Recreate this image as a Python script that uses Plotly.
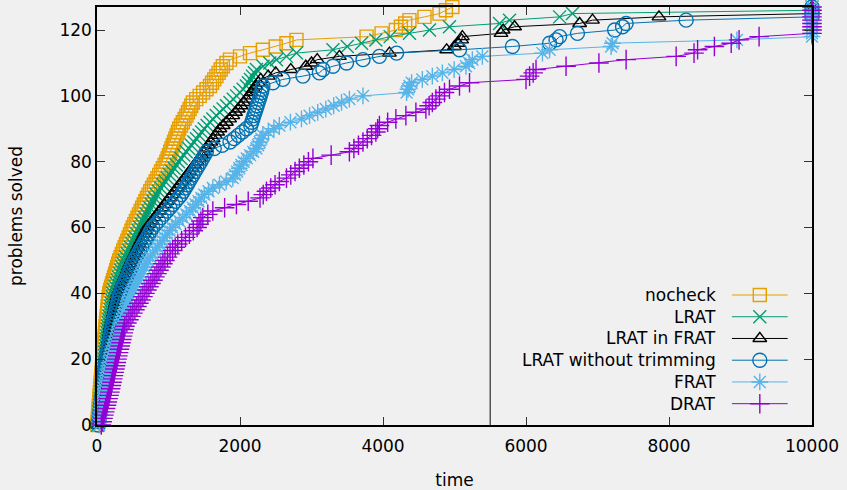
import plotly.graph_objects as go

# ---------------- data (solve times in seconds, sorted; y = number solved) ----------------
series_names = ["nocheck", "LRAT", "LRAT in FRAT", "LRAT without trimming", "FRAT", "DRAT"]

nocheck_t = [
    5, 8, 12, 15, 19, 22, 26, 30, 33, 37,
    40, 44, 48, 52, 56, 60, 64, 68, 72, 76,
    80, 84, 88, 92, 96, 100, 104, 108, 112, 116,
    120, 125, 130, 135, 140, 145, 150, 155, 160, 165,
    170, 183, 197, 211, 225, 239, 253, 268, 282, 296,
    310, 329, 348, 367, 386, 405, 424, 443, 462, 481,
    500, 522, 544, 566, 588, 610, 632, 654, 676, 698,
    720, 745, 770, 795, 820, 845, 870, 895, 920, 945,
    970, 988, 1006, 1024, 1042, 1060, 1078, 1096, 1114, 1132,
    1150, 1175, 1200, 1225, 1250, 1272, 1295, 1318, 1340, 1388,
    1436, 1484, 1532, 1580, 1610, 1640, 1670, 1700, 1730, 1760,
    1810, 1860, 2000, 2140, 2320, 2500, 2650, 2790, 3770, 3980,
    4180, 4250, 4310, 4370, 4580, 4790, 4880, 4970,
]

lrat_t = [
    10, 14, 19, 23, 28, 32, 37, 41, 46, 50,
    55, 59, 64, 68, 73, 77, 82, 86, 91, 95,
    100, 105, 110, 115, 120, 125, 130, 135, 140, 145,
    150, 157, 164, 171, 178, 185, 192, 199, 206, 213,
    220, 236, 252, 268, 284, 300, 316, 332, 348, 364,
    380, 402, 424, 446, 468, 490, 512, 534, 556, 578,
    600, 623, 646, 669, 692, 715, 738, 761, 784, 807,
    830, 861, 892, 923, 954, 985, 1016, 1047, 1078, 1109,
    1140, 1176, 1212, 1248, 1284, 1320, 1356, 1392, 1428, 1464,
    1500, 1540, 1580, 1620, 1668, 1716, 1764, 1812, 1860, 1906,
    1952, 1998, 2044, 2090, 2118, 2146, 2174, 2202, 2230, 2323,
    2416, 2510, 2650, 2790, 3300, 3500, 3700, 3900, 4100, 4370,
    4650, 4930, 5630, 5770, 6470, 6650, 10000, 10000,
]

lrat_in_frat_t = [
    15, 20, 26, 31, 37, 42, 48, 53, 59, 64,
    70, 75, 80, 85, 90, 95, 100, 105, 110, 115,
    120, 127, 134, 141, 148, 155, 162, 169, 176, 183,
    190, 200, 210, 220, 230, 240, 250, 260, 270, 280,
    290, 309, 328, 347, 366, 385, 404, 423, 442, 461,
    480, 502, 524, 546, 568, 590, 612, 634, 656, 678,
    700, 735, 770, 805, 840, 875, 910, 945, 980, 1015,
    1050, 1085, 1120, 1155, 1190, 1225, 1260, 1295, 1330, 1365,
    1400, 1432, 1464, 1496, 1528, 1560, 1592, 1624, 1656, 1688,
    1720, 1765, 1810, 1855, 1900, 1938, 1976, 2014, 2052, 2090,
    2123, 2156, 2190, 2223, 2256, 2290, 2395, 2500, 2710, 2920,
    3000, 3080, 3390, 4090, 4890, 5000, 5050, 5100, 5110, 5650,
    5680, 5840, 6750, 6930, 7860, 10000, 10000, 10000,
]

lrat_notrim_t = [
    20, 26, 32, 38, 44, 50, 56, 62, 68, 74,
    80, 85, 90, 95, 100, 105, 110, 115, 120, 125,
    130, 138, 146, 154, 162, 170, 178, 186, 194, 202,
    210, 221, 232, 243, 254, 265, 276, 287, 298, 309,
    320, 340, 360, 380, 400, 420, 440, 460, 480, 500,
    520, 546, 572, 598, 624, 650, 676, 702, 728, 754,
    780, 820, 860, 900, 940, 980, 1020, 1060, 1100, 1140,
    1180, 1207, 1234, 1261, 1288, 1315, 1342, 1369, 1396, 1423,
    1450, 1477, 1503, 1530, 1640, 1750, 1860, 1918, 1975, 2032,
    2090, 2150, 2165, 2180, 2195, 2210, 2225, 2240, 2255, 2270,
    2285, 2300, 2310, 2320, 2460, 2600, 2880, 3110, 3160, 3300,
    3490, 3720, 3950, 4190, 5070, 5810, 6330, 6420, 6470, 6720,
    7240, 7350, 7400, 8240, 10000, 10000, 10000, 10000,
]

frat_t = [
    30, 36, 43, 49, 56, 62, 69, 75, 82, 88,
    95, 103, 112, 120, 129, 137, 146, 154, 163, 171,
    180, 194, 208, 222, 236, 250, 264, 278, 292, 306,
    320, 336, 352, 368, 384, 400, 416, 432, 448, 464,
    480, 503, 526, 549, 572, 595, 618, 641, 664, 687,
    710, 744, 778, 812, 846, 880, 914, 948, 982, 1016,
    1050, 1100, 1150, 1200, 1250, 1300, 1340, 1380, 1420, 1460,
    1500, 1560, 1620, 1713, 1807, 1900, 1930, 1960, 1990, 2020,
    2050, 2095, 2140, 2185, 2230, 2253, 2275, 2298, 2320, 2397,
    2473, 2550, 2705, 2860, 2973, 3087, 3200, 3310, 3420, 3530,
    3720, 4330, 4350, 4370, 4400, 4550, 4690, 4830, 4995, 5160,
    5205, 5250, 5390, 6230, 6330, 7190, 7210, 8950, 10000, 10000,
    10000, 10000, 10000, 10000, 10000, 10000, 10000, 10000,
]

drat_t = [
    60, 72, 84, 96, 108, 120, 132, 144, 156, 168,
    180, 190, 200, 210, 220, 230, 240, 250, 260, 270,
    280, 291, 302, 313, 324, 335, 346, 357, 368, 379,
    390, 418, 446, 474, 502, 530, 558, 586, 614, 642,
    670, 698, 726, 754, 782, 810, 838, 866, 894, 922,
    950, 986, 1022, 1058, 1094, 1130, 1184, 1238, 1292, 1346,
    1400, 1427, 1453, 1480, 1550, 1620, 1785, 1950, 2115, 2280,
    2325, 2370, 2430, 2490, 2550, 2650, 2710, 2770, 2830, 2893,
    2957, 3020, 3275, 3530, 3593, 3657, 3720, 3780, 3840, 3900,
    3925, 3950, 4065, 4180, 4320, 4460, 4600, 4645, 4690, 4740,
    4790, 4860, 4930, 5070, 5210, 6000, 6050, 6100, 6140, 6560,
    7020, 7400, 8100, 8350, 8400, 8635, 8870, 8980, 9260, 10000,
    10000, 10000, 10000, 10000, 10000, 10000, 10000, 10000,
]

x_ticks = [0, 2000, 4000, 6000, 8000, 10000]
y_ticks = [0, 20, 40, 60, 80, 100, 120]
timeout_line = 5500

# ---------------- styles ----------------
all_times = [nocheck_t, lrat_t, lrat_in_frat_t, lrat_notrim_t, frat_t, drat_t]
colors = ["#E69F00", "#009E73", "#000000", "#0072B2", "#56B4E9", "#9400D3"]
symbols = ["square-open", "x-thin-open", "triangle-up-open", "circle-open",
           "asterisk-open", "cross-thin-open"]
sizes = [13, 13, 12, 14, 14, 14]

FONT = "DejaVu Sans"
FS = 17

fig = go.Figure()
for name, ts, c, s, sz in zip(series_names, all_times, colors, symbols, sizes):
    fig.add_trace(go.Scatter(
        x=ts, y=list(range(len(ts))), mode="lines+markers", name=name,
        line=dict(color=c, width=1),
        marker=dict(symbol=s, size=sz, color=c, line=dict(color=c, width=1.4)),
        cliponaxis=False, showlegend=False,
    ))

# custom gnuplot-style key (text left of sample) on an overlay axis in [0,1]
key_y = [0.311, 0.259, 0.207, 0.155, 0.103, 0.051]
for name, c, s, sz, ky in zip(series_names, colors, symbols, sizes, key_y):
    fig.add_trace(go.Scatter(
        x=[0.888, 0.966], y=[ky, ky], mode="lines", line=dict(color=c, width=1),
        xaxis="x2", yaxis="y2", showlegend=False, hoverinfo="skip"))
    fig.add_trace(go.Scatter(
        x=[0.927], y=[ky], mode="markers",
        marker=dict(symbol=s, size=sz, color=c, line=dict(color=c, width=1.4)),
        xaxis="x2", yaxis="y2", showlegend=False, hoverinfo="skip"))
    fig.add_annotation(x=0.869, y=ky, xref="x2", yref="y2", text=name,
                       showarrow=False, xanchor="right", yanchor="middle",
                       font=dict(family=FONT, size=FS, color="#000"))

fig.add_shape(type="line", x0=timeout_line, x1=timeout_line, y0=0, y1=1,
              xref="x", yref="y domain", line=dict(color="#555555", width=1.5))

axis_common = dict(showline=True, linecolor="black", linewidth=1.5, mirror="allticks",
                   ticks="inside", ticklen=8, tickwidth=1, tickcolor="#333333",
                   showgrid=False, zeroline=False, automargin=False,
                   tickfont=dict(family=FONT, size=FS, color="#000"))

fig.update_layout(
    width=847, height=490,
    margin=dict(l=97, r=35, t=7, b=65),
    paper_bgcolor="#f0f0f0", plot_bgcolor="#f0f0f0",
    font=dict(family=FONT, size=FS, color="#000"),
    xaxis=dict(range=[0, 10000], tickvals=x_ticks, ticktext=[str(v) for v in x_ticks],
               ticklabelstandoff=5,
               title=dict(text="time", font=dict(family=FONT, size=FS), standoff=22),
               **axis_common),
    yaxis=dict(range=[0, 127], tickvals=y_ticks, ticktext=[str(v) for v in y_ticks],
               title=dict(text="problems solved", font=dict(family=FONT, size=FS), standoff=32),
               **axis_common),
    xaxis2=dict(overlaying="x", range=[0, 1], visible=False),
    yaxis2=dict(overlaying="y", range=[0, 1], visible=False),
)

fig.write_html("out.html")
